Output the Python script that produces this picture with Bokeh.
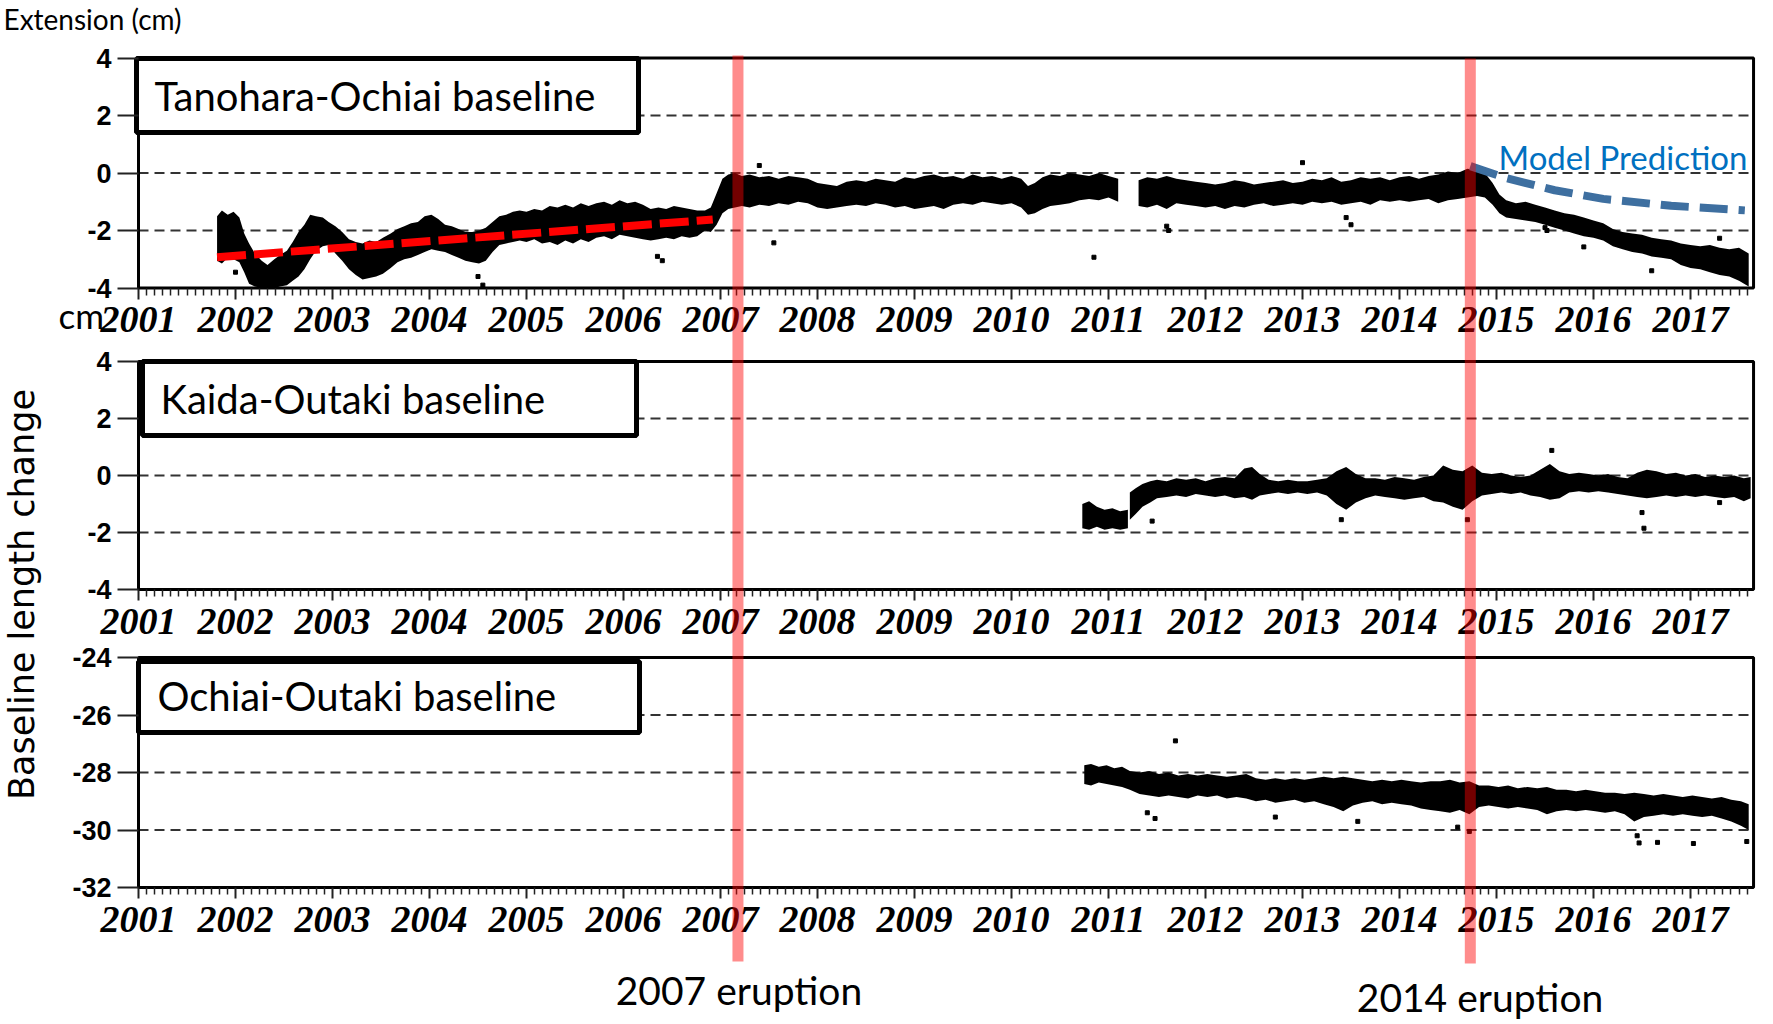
import math
from bokeh.plotting import figure
from bokeh.models import Range1d, LinearAxis, FixedTicker
from bokeh.core.properties import value
from bokeh.embed import file_html
from bokeh.resources import INLINE

# ---------------- data ----------------
years = list(range(2001, 2018))
year_labels = [str(y) for y in years]
X_START_YEAR = 2001.0
X_END_YEAR = 2017.65

eruptions = [2007.18, 2014.73]
eruption_labels = ["2007 eruption", "2014 eruption"]
eruption_label_x = [2007.19, 2014.83]

p1_ticks = [-4, -2, 0, 2, 4]
p1_tick_labels = ["-4", "-2", "0", "2", "4"]
p1_grid = [-2, 0, 2]
p2_ticks = [-4, -2, 0, 2, 4]
p2_tick_labels = ["-4", "-2", "0", "2", "4"]
p2_grid = [-2, 0, 2]
p3_ticks = [-32, -30, -28, -26, -24]
p3_tick_labels = ["-32", "-30", "-28", "-26", "-24"]
p3_grid = [-30, -28, -26]

# Tanohara-Ochiai baseline: band of the daily solutions (time, upper edge, lower edge)
p1a_t = [2001.81, 2001.86, 2001.92, 2001.98, 2002.04, 2002.09, 2002.14, 2002.20, 2002.27, 2002.33,
         2002.40, 2002.46, 2002.53, 2002.59, 2002.65, 2002.71, 2002.77, 2002.83, 2002.90, 2002.96,
         2003.03, 2003.10, 2003.17, 2003.24, 2003.31, 2003.38, 2003.45, 2003.52, 2003.60, 2003.67,
         2003.74, 2003.81, 2003.88, 2003.95, 2004.02, 2004.09, 2004.16, 2004.23, 2004.30, 2004.37,
         2004.44, 2004.51, 2004.58, 2004.65, 2004.72, 2004.79, 2004.86, 2004.93, 2005.00, 2005.08,
         2005.16, 2005.24, 2005.32, 2005.40, 2005.48, 2005.56, 2005.64, 2005.72, 2005.80, 2005.88,
         2005.96, 2006.04, 2006.12, 2006.20, 2006.28, 2006.36, 2006.44, 2006.52, 2006.60, 2006.68,
         2006.76, 2006.84, 2006.90, 2006.96, 2007.02, 2007.08, 2007.15, 2007.22, 2007.30, 2007.40,
         2007.50, 2007.60, 2007.70, 2007.80, 2007.90, 2008.00, 2008.10, 2008.20, 2008.30, 2008.40,
         2008.50, 2008.60, 2008.70, 2008.80, 2008.90, 2009.00, 2009.10, 2009.20, 2009.30, 2009.40,
         2009.50, 2009.60, 2009.70, 2009.80, 2009.90, 2010.00, 2010.10, 2010.17, 2010.24, 2010.32,
         2010.40, 2010.50, 2010.60, 2010.70, 2010.80, 2010.90, 2011.00, 2011.10]
p1a_hi = [-1.50, -1.30, -1.45, -1.35, -1.55, -2.10, -2.45, -2.80, -3.05, -3.20,
          -3.00, -2.85, -2.70, -2.40, -2.05, -1.80, -1.45, -1.50, -1.55, -1.70,
          -1.85, -2.05, -2.30, -2.40, -2.45, -2.35, -2.40, -2.25, -2.10, -1.95,
          -1.85, -1.75, -1.70, -1.50, -1.45, -1.60, -1.80, -1.85, -1.95, -2.05,
          -2.05, -2.00, -1.90, -1.70, -1.50, -1.45, -1.35, -1.30, -1.35, -1.25,
          -1.30, -1.15, -1.20, -1.10, -1.20, -1.05, -1.15, -1.05, -1.00, -1.10,
          -0.95, -1.05, -1.00, -1.10, -1.25, -1.20, -1.25, -1.15, -1.20, -1.25,
          -1.30, -1.30, -1.20, -0.70, -0.20, -0.05, 0.00, -0.10, -0.05, -0.15,
          -0.10, -0.20, -0.10, -0.15, -0.20, -0.35, -0.40, -0.45, -0.30, -0.25,
          -0.30, -0.20, -0.25, -0.30, -0.15, -0.20, -0.10, -0.05, -0.15, -0.10,
          -0.20, -0.05, -0.15, -0.10, -0.20, -0.10, -0.20, -0.45, -0.35, -0.15,
          -0.05, -0.10, 0.00, -0.05, -0.10, 0.00, -0.10, -0.20]
p1a_lo = [-3.05, -3.15, -2.95, -3.00, -3.10, -3.45, -3.85, -3.95, -4.00, -4.00,
          -4.00, -3.95, -3.90, -3.75, -3.60, -3.35, -3.00, -2.70, -2.55, -2.50,
          -2.80, -3.05, -3.35, -3.55, -3.70, -3.65, -3.60, -3.50, -3.30, -3.10,
          -3.00, -2.95, -2.85, -2.75, -2.65, -2.70, -2.75, -2.85, -2.95, -3.05,
          -3.10, -3.15, -3.05, -2.75, -2.50, -2.45, -2.40, -2.35, -2.40, -2.30,
          -2.45, -2.40, -2.50, -2.35, -2.45, -2.30, -2.40, -2.25, -2.20, -2.30,
          -2.15, -2.20, -2.25, -2.30, -2.35, -2.30, -2.25, -2.30, -2.20, -2.25,
          -2.20, -2.00, -2.05, -1.80, -1.40, -1.25, -1.20, -1.15, -1.20, -1.10,
          -1.15, -1.05, -1.10, -1.00, -1.05, -1.20, -1.25, -1.20, -1.15, -1.10,
          -1.15, -1.05, -1.10, -1.20, -1.15, -1.25, -1.20, -1.15, -1.25, -1.10,
          -1.05, -1.10, -1.00, -1.05, -1.10, -1.05, -1.20, -1.45, -1.40, -1.25,
          -1.15, -1.10, -1.05, -0.95, -0.90, -0.95, -0.85, -1.00]
p1b_t = [2011.31, 2011.40, 2011.50, 2011.60, 2011.70, 2011.80, 2011.90, 2012.00, 2012.10, 2012.20,
         2012.30, 2012.40, 2012.50, 2012.60, 2012.70, 2012.80, 2012.90, 2013.00, 2013.10, 2013.20,
         2013.30, 2013.40, 2013.50, 2013.60, 2013.70, 2013.80, 2013.90, 2014.00, 2014.10, 2014.20,
         2014.30, 2014.40, 2014.50, 2014.60, 2014.70, 2014.80, 2014.88, 2014.96, 2015.03, 2015.10,
         2015.20, 2015.30, 2015.40, 2015.50, 2015.60, 2015.70, 2015.80, 2015.90, 2016.00, 2016.10,
         2016.20, 2016.30, 2016.40, 2016.50, 2016.60, 2016.70, 2016.80, 2016.90, 2017.00, 2017.10,
         2017.20, 2017.30, 2017.40, 2017.50, 2017.60]
p1b_hi = [-0.25, -0.15, -0.20, -0.10, -0.20, -0.25, -0.30, -0.35, -0.40, -0.35,
          -0.25, -0.30, -0.40, -0.35, -0.30, -0.25, -0.35, -0.30, -0.20, -0.25,
          -0.15, -0.30, -0.25, -0.15, -0.20, -0.15, -0.25, -0.15, -0.10, -0.20,
          -0.10, -0.05, 0.05, 0.00, 0.15, 0.10, 0.00, -0.35, -0.75, -0.95,
          -1.05, -1.00, -1.10, -1.20, -1.30, -1.40, -1.45, -1.55, -1.65, -1.75,
          -1.95, -2.05, -2.10, -2.15, -2.25, -2.30, -2.35, -2.45, -2.50, -2.55,
          -2.50, -2.60, -2.65, -2.60, -2.80]
p1b_lo = [-1.15, -1.20, -1.10, -1.25, -1.05, -1.10, -1.15, -1.20, -1.15, -1.25,
          -1.15, -1.20, -1.10, -1.05, -1.15, -1.10, -1.05, -1.10, -1.00, -1.05,
          -1.00, -1.10, -1.05, -1.00, -1.10, -0.95, -1.00, -0.95, -1.00, -0.95,
          -0.90, -1.05, -0.95, -0.90, -0.85, -0.80, -0.85, -1.10, -1.40, -1.55,
          -1.60, -1.65, -1.70, -1.80, -1.90, -2.00, -2.10, -2.20, -2.25, -2.35,
          -2.55, -2.65, -2.75, -2.80, -2.90, -2.95, -3.00, -3.20, -3.30, -3.35,
          -3.45, -3.55, -3.60, -3.75, -3.95]
p1_out_t = [2002.00, 2004.50, 2004.55, 2006.35, 2006.40, 2007.40, 2007.55, 2010.85, 2011.60, 2011.62,
            2013.00, 2013.45, 2013.50, 2015.50, 2015.52, 2015.90, 2016.60, 2017.30]
p1_out_v = [-3.45, -3.60, -3.90, -2.90, -3.05, 0.26, -2.43, -2.93, -1.85, -2.00,
            0.36, -1.55, -1.80, -1.90, -2.00, -2.57, -3.40, -2.27]

# linear trend before 2007 and model prediction after 2014
trend_t = [2001.81, 2006.92]
trend_v = [-2.93, -1.62]
model_t = [2014.73, 2015.10, 2015.60, 2016.10, 2016.80, 2017.56]
model_v = [0.24, -0.18, -0.60, -0.90, -1.14, -1.30]

# Kaida-Outaki baseline
p2a_t = [2010.73, 2010.80, 2010.88, 2010.96, 2011.04, 2011.12, 2011.20]
p2a_hi = [-1.00, -0.90, -1.10, -1.20, -1.15, -1.25, -1.20]
p2a_lo = [-1.85, -1.90, -1.80, -1.90, -1.85, -1.90, -1.85]
p2b_t = [2011.22, 2011.28, 2011.35, 2011.43, 2011.50, 2011.60, 2011.70, 2011.80, 2011.90, 2012.00,
         2012.10, 2012.20, 2012.30, 2012.40, 2012.48, 2012.56, 2012.65, 2012.75, 2012.85, 2012.95,
         2013.05, 2013.15, 2013.25, 2013.35, 2013.45, 2013.55, 2013.65, 2013.75, 2013.85, 2013.95,
         2014.05, 2014.15, 2014.25, 2014.35, 2014.45, 2014.55, 2014.65, 2014.75, 2014.85, 2014.95,
         2015.05, 2015.15, 2015.25, 2015.35, 2015.45, 2015.55, 2015.65, 2015.75, 2015.85, 2015.95,
         2016.05, 2016.15, 2016.25, 2016.35, 2016.45, 2016.55, 2016.65, 2016.75, 2016.85, 2016.95,
         2017.05, 2017.15, 2017.25, 2017.35, 2017.45, 2017.55, 2017.62]
p2b_hi = [-0.60, -0.45, -0.30, -0.20, -0.15, -0.20, -0.10, -0.15, -0.10, -0.20,
          -0.10, -0.05, -0.10, 0.25, 0.30, 0.05, -0.15, -0.20, -0.15, -0.20,
          -0.20, -0.15, -0.10, 0.15, 0.30, 0.05, -0.10, -0.10, -0.15, -0.05,
          -0.10, -0.15, -0.05, 0.00, 0.35, 0.20, 0.15, 0.35, 0.10, 0.05,
          0.10, 0.00, -0.05, 0.00, 0.20, 0.40, 0.15, 0.05, 0.10, 0.05,
          0.00, 0.05, -0.05, -0.10, 0.10, 0.20, 0.15, 0.05, 0.10, 0.00,
          0.05, -0.05, 0.00, -0.05, 0.00, -0.10, -0.05]
p2b_lo = [-1.55, -1.35, -1.10, -0.95, -0.80, -0.75, -0.70, -0.75, -0.65, -0.70,
          -0.75, -0.70, -0.80, -0.75, -0.85, -0.70, -0.65, -0.60, -0.65, -0.60,
          -0.65, -0.60, -0.70, -1.00, -1.20, -0.95, -0.80, -0.70, -0.75, -0.80,
          -0.85, -0.80, -0.75, -0.90, -0.95, -1.10, -1.20, -0.90, -0.70, -0.65,
          -0.60, -0.65, -0.60, -0.70, -0.75, -0.85, -0.80, -0.60, -0.55, -0.60,
          -0.55, -0.60, -0.65, -0.70, -0.75, -0.80, -0.75, -0.70, -0.75, -0.70,
          -0.75, -0.70, -0.75, -0.80, -0.75, -0.90, -0.80]
p2_out_t = [2011.45, 2013.40, 2014.70, 2015.57, 2016.50, 2016.52, 2017.30]
p2_out_v = [-1.60, -1.55, -1.55, 0.88, -1.30, -1.85, -0.95]

# Ochiai-Outaki baseline
p3_t = [2010.75, 2010.82, 2010.90, 2010.98, 2011.06, 2011.14, 2011.22, 2011.32, 2011.42, 2011.52,
        2011.62, 2011.72, 2011.82, 2011.92, 2012.02, 2012.12, 2012.22, 2012.32, 2012.42, 2012.52,
        2012.62, 2012.72, 2012.82, 2012.92, 2013.02, 2013.12, 2013.22, 2013.32, 2013.42, 2013.52,
        2013.62, 2013.72, 2013.82, 2013.92, 2014.02, 2014.12, 2014.22, 2014.32, 2014.42, 2014.52,
        2014.62, 2014.72, 2014.82, 2014.92, 2015.02, 2015.12, 2015.22, 2015.32, 2015.42, 2015.52,
        2015.62, 2015.72, 2015.82, 2015.92, 2016.02, 2016.12, 2016.22, 2016.32, 2016.42, 2016.52,
        2016.62, 2016.72, 2016.82, 2016.92, 2017.02, 2017.12, 2017.22, 2017.32, 2017.42, 2017.52,
        2017.60]
p3_hi = [-27.75, -27.70, -27.80, -27.75, -27.85, -27.80, -27.95, -28.00, -27.95, -28.05,
         -28.00, -28.10, -28.05, -28.10, -28.05, -28.10, -28.15, -28.10, -28.05, -28.20,
         -28.25, -28.20, -28.25, -28.20, -28.25, -28.20, -28.15, -28.20, -28.15, -28.20,
         -28.25, -28.30, -28.25, -28.30, -28.25, -28.30, -28.35, -28.30, -28.30, -28.25,
         -28.35, -28.30, -28.45, -28.45, -28.50, -28.45, -28.55, -28.50, -28.55, -28.50,
         -28.60, -28.60, -28.65, -28.60, -28.65, -28.70, -28.70, -28.75, -28.70, -28.75,
         -28.80, -28.75, -28.80, -28.85, -28.80, -28.85, -28.90, -28.85, -28.95, -29.00,
         -29.10]
p3_lo = [-28.40, -28.45, -28.35, -28.40, -28.45, -28.50, -28.60, -28.75, -28.80, -28.85,
         -28.80, -28.85, -28.90, -28.80, -28.85, -28.80, -28.90, -28.85, -28.90, -29.00,
         -28.95, -29.05, -29.00, -28.95, -29.05, -29.00, -29.10, -29.20, -29.35, -29.15,
         -29.05, -29.00, -29.10, -29.05, -29.10, -29.15, -29.25, -29.30, -29.35, -29.40,
         -29.30, -29.45, -29.20, -29.15, -29.20, -29.25, -29.20, -29.25, -29.30, -29.45,
         -29.35, -29.30, -29.35, -29.30, -29.35, -29.40, -29.35, -29.45, -29.70, -29.55,
         -29.50, -29.45, -29.50, -29.45, -29.50, -29.55, -29.50, -29.60, -29.70, -29.85,
         -30.00]
p3_out_t = [2011.40, 2011.48, 2011.69, 2012.72, 2013.57, 2014.60, 2014.72, 2016.45, 2016.47, 2016.66, 2017.03, 2017.58]
p3_out_v = [-29.40, -29.60, -26.90, -29.55, -29.70, -29.90, -30.05, -30.20, -30.45, -30.43, -30.47, -30.40]

# ---------------- layout (page pixels; Bokeh's page has no body margin) ----------------
W, H = 1770, 1020
OFF = 0
PX_PER_YEAR = 97.0
X0_PAGE = 138.0
x_start = X_START_YEAR - (X0_PAGE - OFF) / PX_PER_YEAR
x_end = x_start + W / PX_PER_YEAR


def vrange(v_top, v_bot, py_top, py_bot):
    k = (v_top - v_bot) / (py_bot - py_top)
    return Range1d(start=v_bot - (OFF + H - py_bot) * k, end=v_top + (py_top - OFF) * k)


p = figure(width=W, height=H, x_range=Range1d(x_start, x_end), y_range=Range1d(OFF + H, OFF),
           x_axis_type=None, y_axis_type=None, toolbar_location=None, output_backend="svg",
           min_border=0, outline_line_color=None)
p.extra_y_ranges = {"p1": vrange(4, -4, 57.5, 287.5),
                    "p2": vrange(4, -4, 361, 589),
                    "p3": vrange(-24, -32, 657, 887)}
p.extra_x_ranges = {"px": Range1d(OFF, OFF + W)}

SANS = "Lato"
minor = [y + m / 12.0 for y in years for m in range(1, 12) if y + m / 12.0 < X_END_YEAR]

panels = [
    dict(name="p1", ticks=p1_ticks, labels=p1_tick_labels, grid=p1_grid, lo=-4, hi=4,
         box=(136, 638, 58, 132), title="Tanohara-Ochiai baseline", txy=(154, 95)),
    dict(name="p2", ticks=p2_ticks, labels=p2_tick_labels, grid=p2_grid, lo=-4, hi=4,
         box=(142, 636, 361, 435), title="Kaida-Outaki baseline", txy=(160, 398)),
    dict(name="p3", ticks=p3_ticks, labels=p3_tick_labels, grid=p3_grid, lo=-32, hi=-24,
         box=(138, 639, 661, 732), title="Ochiai-Outaki baseline", txy=(157, 695)),
]

for pn in panels:
    nm = pn["name"]
    g = pn["grid"]
    p.segment(x0=[X_START_YEAR] * len(g), x1=[X_END_YEAR] * len(g), y0=g, y1=g, y_range_name=nm,
              line_color="#333333", line_width=2, line_dash="10 6")

# data bands
for t, hi, lo, nm in [(p1a_t, p1a_hi, p1a_lo, "p1"), (p1b_t, p1b_hi, p1b_lo, "p1"),
                      (p2a_t, p2a_hi, p2a_lo, "p2"), (p2b_t, p2b_hi, p2b_lo, "p2"),
                      (p3_t, p3_hi, p3_lo, "p3")]:
    p.varea(x=t, y1=lo, y2=hi, y_range_name=nm, fill_color="black")
for t, v, nm in [(p1_out_t, p1_out_v, "p1"), (p2_out_t, p2_out_v, "p2"), (p3_out_t, p3_out_v, "p3")]:
    p.scatter(x=t, y=v, y_range_name=nm, marker="square", size=4, color="black")

# trend and model prediction
p.line(x=trend_t, y=trend_v, y_range_name="p1", line_color="#ff0000", line_width=8,
       line_dash="29 8", line_cap="butt")
p.line(x=model_t, y=model_v, y_range_name="p1", line_color="#3e6fa0", line_width=8,
       line_dash="28 11", line_cap="butt")
p.text(x=[1498], y=[156], text=["Model Prediction"], x_range_name="px",
       text_font=value(SANS), text_font_size=value("33px"), text_color="#0070c0",
       text_baseline="middle", text_align="left")

for pn in panels:
    nm = pn["name"]
    # frame
    p.quad(left=[X_START_YEAR], right=[X_END_YEAR], bottom=[pn["lo"]], top=[pn["hi"]], y_range_name=nm,
           fill_color=None, line_color="black", line_width=3)
    # title box
    bx0, bx1, by0, by1 = pn["box"]
    p.quad(left=[bx0], right=[bx1], top=[by0], bottom=[by1], x_range_name="px",
           fill_color="white", line_color="black", line_width=5)
    p.text(x=[pn["txy"][0]], y=[pn["txy"][1]], text=[pn["title"]], x_range_name="px",
           text_font=value(SANS), text_font_size=value("40px"), text_color="black",
           text_baseline="middle", text_align="left")
    # y axis
    yax = LinearAxis(y_range_name=nm, fixed_location=X_START_YEAR, bounds=(pn["lo"], pn["hi"]),
                     ticker=FixedTicker(ticks=pn["ticks"]),
                     major_label_overrides=dict(zip(pn["ticks"], pn["labels"])),
                     major_tick_out=21, major_tick_in=0, minor_tick_out=0, minor_tick_in=0,
                     major_tick_line_width=2, major_tick_line_color="#222222",
                     axis_line_color=None, major_label_standoff=6,
                     major_label_text_font="Liberation Sans", major_label_text_font_style="bold",
                     major_label_text_font_size="27px", major_label_text_color="black")
    p.add_layout(yax, "left")
    # x axis
    xax = LinearAxis(y_range_name=nm, fixed_location=pn["lo"], bounds=(X_START_YEAR, X_END_YEAR),
                     ticker=FixedTicker(ticks=years, minor_ticks=minor),
                     major_label_overrides=dict(zip(years, year_labels)),
                     major_tick_out=11, major_tick_in=0, minor_tick_out=7, minor_tick_in=0,
                     major_tick_line_width=2, minor_tick_line_width=1.5,
                     major_tick_line_color="#222222", minor_tick_line_color="#222222",
                     axis_line_color=None, major_label_standoff=8,
                     major_label_text_font="Liberation Serif", major_label_text_font_style="bold italic",
                     major_label_text_font_size="38px", major_label_text_color="black")
    p.add_layout(xax, "below")

# extra texts
p.text(x=[3], y=[18], text=["Extension (cm)"], x_range_name="px", text_font=value(SANS),
       text_font_size=value("28px"), text_color="black", text_baseline="middle", text_align="left")
p.text(x=[58], y=[314], text=["cm"], x_range_name="px", text_font=value(SANS),
       text_font_size=value("35px"), text_color="black", text_baseline="middle", text_align="left")
p.text(x=[21], y=[594], text=["Baseline length change"], x_range_name="px", angle=math.pi / 2,
       text_font=value("DejaVu Sans"), text_font_size=value("35px"), text_color="black",
       text_baseline="middle", text_align="center")

# eruption markers
p.segment(x0=eruptions, x1=eruptions, y0=[55, 58], y1=[961, 963], line_color="#ff0000",
          line_alpha=0.45, line_width=11, line_cap="butt", level="overlay")
p.text(x=eruption_label_x, y=[989, 996], text=eruption_labels, text_font=value(SANS),
       text_font_size=value("39px"), text_color="black", text_baseline="middle", text_align="center")

open("out.html", "w").write(file_html(p, INLINE))
